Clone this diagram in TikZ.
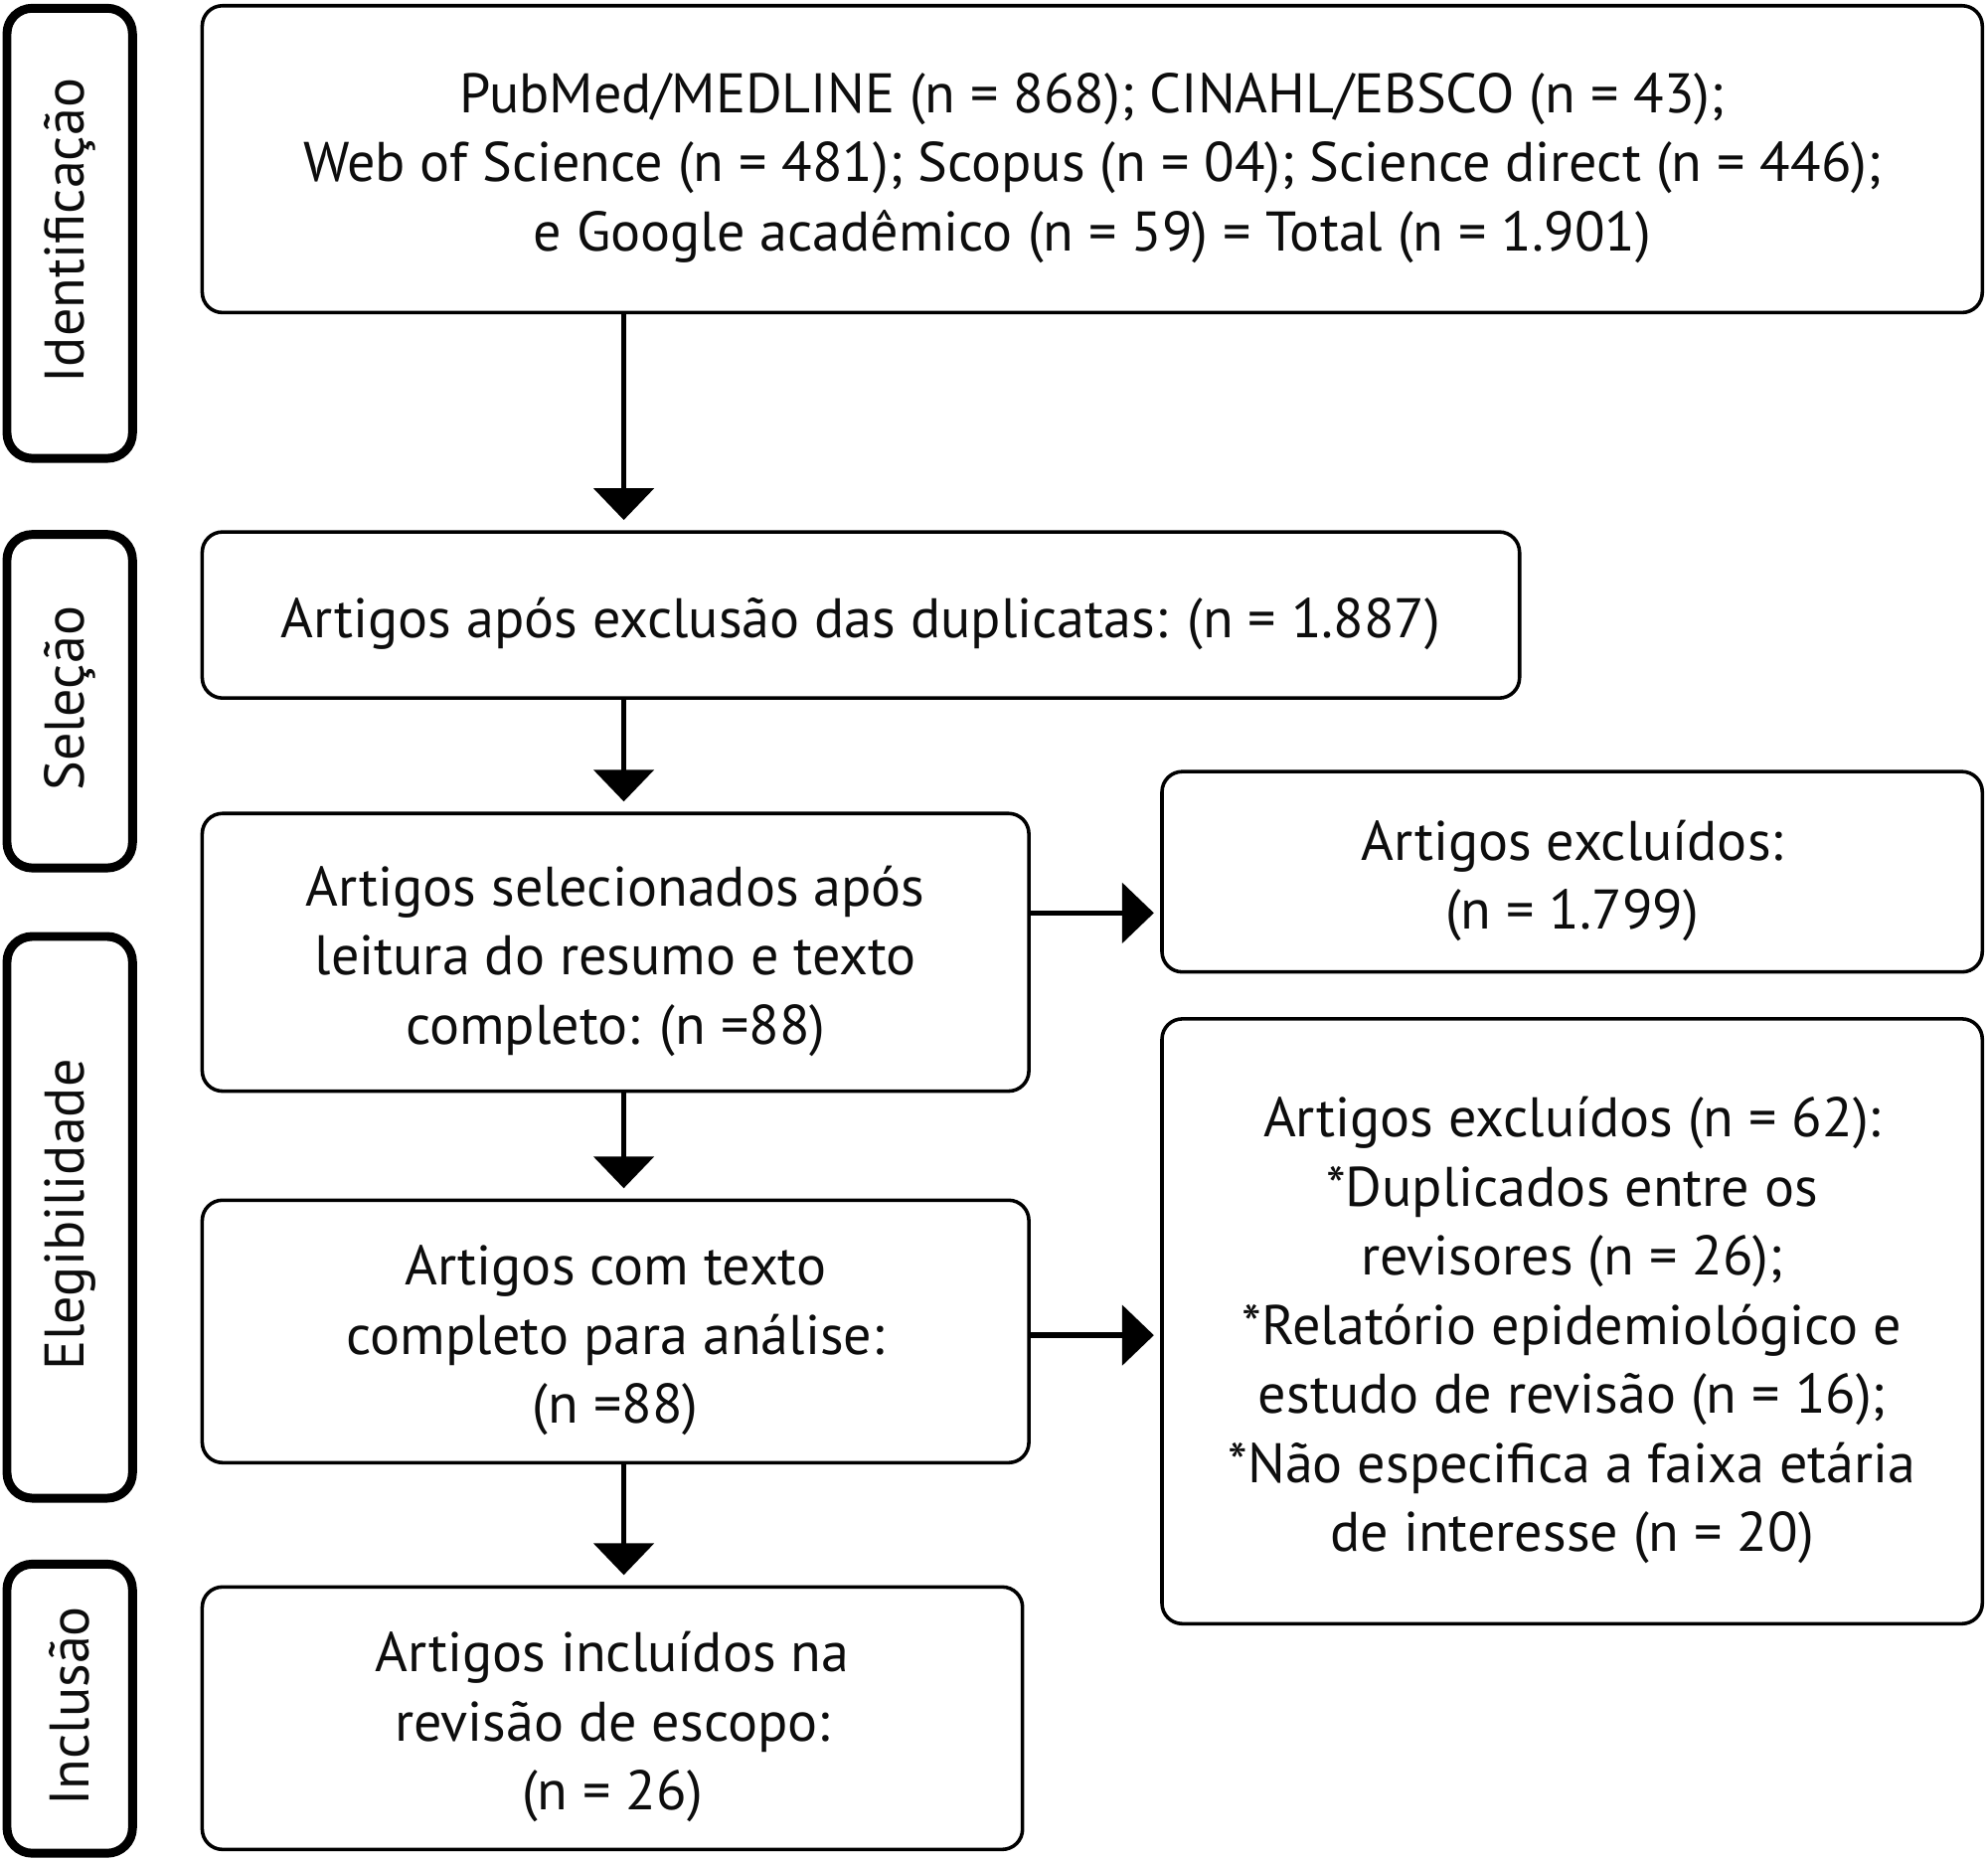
\documentclass[tikz,border=0pt]{standalone}
\usepackage{fontspec}
\setmainfont{PT Sans}
\usetikzlibrary{arrows.meta,calc}
\begin{document}
\begin{tikzpicture}[x=1pt,y=-1pt,
  txt/.style={font=\fontsize{44}{54.5}\selectfont, text=black!95},
  lab/.style={txt, align=center, inner sep=0pt, yshift=-7pt},
  box/.style={draw, line width=2.8pt, rounded corners=16pt, inner sep=0pt},
  side/.style={draw, line width=7pt, rounded corners=20pt, inner sep=0pt, minimum width=99pt},
  arr/.style={line width=4.2pt, -{Triangle[length=25pt,width=47pt]}, shorten >=8pt}]
\useasboundingbox (0,0) rectangle (1568,1468);
% side boxes
\node[side, minimum height=355pt] (s1) at (55,184) {};
\node[side, minimum height=263pt] (s2) at (55,553) {};
\node[side, minimum height=443pt] (s3) at (55,960) {};
\node[side, minimum height=228pt] (s4) at (55,1347.5) {};
\node[txt, rotate=90, xshift=2pt] (t1) at (s1.center) {Identificação};
\node[txt, rotate=90, xshift=2pt] (t2) at (s2.center) {Seleção};
\node[txt, rotate=90, xshift=2pt] (t3) at (s3.center) {Elegibilidade};
\node[txt, rotate=90, xshift=2pt] (t4) at (s4.center) {Inclusão};
% main boxes
\node[box, minimum width=1404pt, minimum height=242pt] (b1) at (861.5,125.5) {};
\node[box, minimum width=1039pt, minimum height=131pt] (b2) at (679,485) {};
\node[box, minimum width=652pt, minimum height=219pt] (b3) at (485.5,751) {};
\node[box, minimum width=652pt, minimum height=207pt] (b4) at (485.5,1050) {};
\node[box, minimum width=647pt, minimum height=207pt] (b5) at (483,1355) {};
\node[box, minimum width=647pt, minimum height=158pt] (x1) at (1240,687.5) {};
\node[box, minimum width=647pt, minimum height=477pt] (x2) at (1240,1042) {};
% texts
\node[lab] (l1) at (b1.center)
  {PubMed/MEDLINE (n = 868); CINAHL/EBSCO (n = 43);\\
   Web of Science (n = 481); Scopus (n = 04); Science direct (n = 446);\\
   e Google acadêmico (n = 59) = Total (n = 1.901)};
\node[lab] (l2) at (b2.center) {Artigos após exclusão das duplicatas: (n = 1.887)};
\node[lab] (l3) at (b3.center) {Artigos selecionados após\\ leitura do resumo e texto\\ completo: (n =88)};
\node[lab] (l4) at (b4.center) {Artigos com texto\\ completo para análise:\\ (n =88)};
\node[lab] (l5) at (b5.center) {Artigos incluídos na\\ revisão de escopo:\\ (n = 26)};
\node[lab] (lx1) at (x1.center) {Artigos excluídos:\\ (n = 1.799)};
\node[lab] (lx2) at (x2.center)
  {Artigos excluídos (n = 62):\\ *Duplicados entre os\\ revisores (n = 26);\\
   *Relatório epidemiológico e\\ estudo de revisão (n = 16);\\
   *Não especifica a faixa etária\\ de interesse (n = 20)};
% connectors
\coordinate (col) at (492,0);
\coordinate (r1) at (0,720);
\coordinate (r2) at (0,1053);
\draw[arr] (b1.south -| col) -- (b2.north -| col);
\draw[arr] (b2.south -| col) -- (b3.north -| col);
\draw[arr] (b3.south -| col) -- (b4.north -| col);
\draw[arr] (b4.south -| col) -- (b5.north -| col);
\draw[arr, shorten >=5pt] (b3.east |- r1) -- (x1.west |- r1);
\draw[arr, shorten >=5pt] (b4.east |- r2) -- (x2.west |- r2);
\end{tikzpicture}
\end{document}
